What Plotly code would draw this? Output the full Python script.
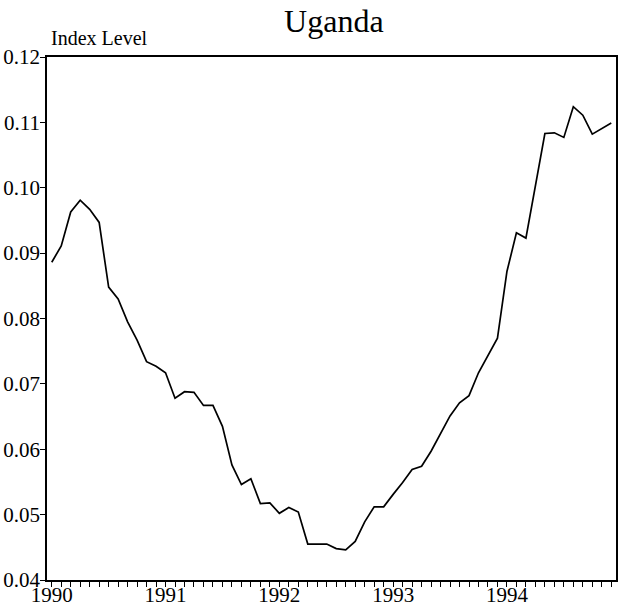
import plotly.graph_objects as go

# Monthly index values, Jan 1990 .. Dec 1994
years = [1990, 1991, 1992, 1993, 1994]
values = [
    0.0886, 0.0911, 0.0963, 0.0981, 0.0967, 0.0947, 0.0848, 0.0830, 0.0795, 0.0767, 0.0734, 0.0727,
    0.0717, 0.0678, 0.0688, 0.0687, 0.0667, 0.0667, 0.0635, 0.0576, 0.0546, 0.0555, 0.0517, 0.0518,
    0.0502, 0.0511, 0.0504, 0.0455, 0.0455, 0.0455, 0.0448, 0.0446, 0.0459, 0.0489, 0.0512, 0.0512,
    0.0531, 0.0549, 0.0569, 0.0574, 0.0597, 0.0625, 0.0651, 0.0671, 0.0682, 0.0717, 0.0744, 0.0770,
    0.0872, 0.0931, 0.0923, 0.1002, 0.1083, 0.1084, 0.1077, 0.1124, 0.1111, 0.1082, 0.1090, 0.1099,
]
title_text = "Uganda"
y_label = "Index Level"

n = len(values)
x = [years[0] + (k + 0.5) / 12 for k in range(n)]
tickvals = x
ticktext = [str(years[0] + k // 12) if k % 12 == 0 else "" for k in range(n)]

FONT = "Liberation Serif"

fig = go.Figure()
fig.add_trace(go.Scatter(x=x, y=values, mode="lines",
                         line=dict(color="black", width=1.7), showlegend=False))

fig.update_layout(
    width=624, height=611,
    margin=dict(l=47, r=8, t=57, b=31, autoexpand=False),
    paper_bgcolor="white", plot_bgcolor="white",
    font=dict(family=FONT, color="black", size=21),
    title=dict(text=title_text, x=0.535, xanchor="center", y=1 - 21 / 611, yanchor="middle",
               font=dict(family=FONT, size=32, color="black")),
    annotations=[dict(text=y_label, xref="paper", yref="paper", x=0, y=1,
                      xanchor="left", yanchor="bottom", xshift=2, yshift=6,
                      showarrow=False, font=dict(family=FONT, size=20, color="black"))],
)
fig.update_xaxes(range=[1990, 1995], tickmode="array", tickvals=tickvals, ticktext=ticktext,
                 ticks="outside", ticklen=5, tickwidth=1.3, tickcolor="black",
                 showline=True, linecolor="black", linewidth=1.6, mirror=True, automargin=False,
                 showgrid=False, zeroline=False, tickfont=dict(size=21), ticklabelstandoff=-10)
fig.update_yaxes(range=[0.04, 0.12], dtick=0.01, tick0=0.04, tickformat=".2f",
                 ticks="outside", ticklen=5, tickwidth=1.3, tickcolor="black",
                 showline=True, linecolor="black", linewidth=1.6, mirror=True, automargin=False,
                 showgrid=False, zeroline=False, tickfont=dict(size=21), ticklabelstandoff=-4)

fig.write_html("out.html", config={"displayModeBar": False},
               post_script="document.body.style.margin='0';")
